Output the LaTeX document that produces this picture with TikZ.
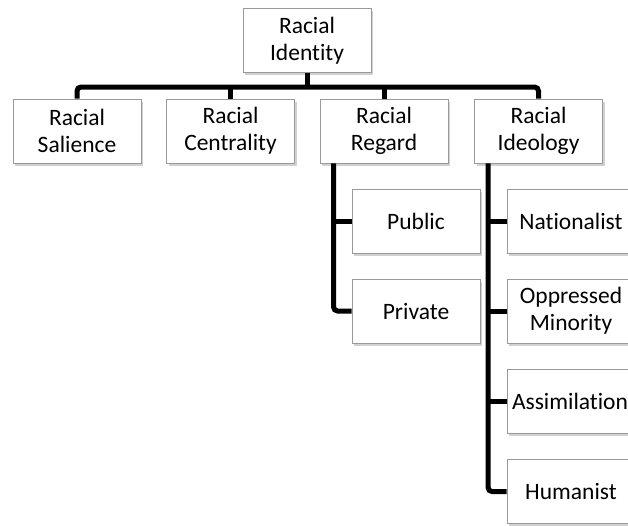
\documentclass[tikz,border=0pt]{standalone}
\usepackage{fontspec}
\setmainfont[Ligatures=NoCommon]{Carlito}
\usetikzlibrary{shadows}
\tikzset{
  box/.style={rectangle, draw=black!40, line width=0.9pt, fill=white,
    minimum width=128pt, minimum height=64pt, inner sep=0pt, align=center,
    font=\fontsize{23.5}{27}\selectfont,
    drop shadow={shadow xshift=2pt, shadow yshift=-2.5pt, opacity=0.3, fill=black!60}},
  conn/.style={line width=5pt, black, rounded corners=4pt}
}
\begin{document}
\begin{tikzpicture}[x=1pt,y=1pt]
\useasboundingbox (0,0) rectangle (628,-525);
\node[box] (id) at (307,-40.5) {Racial\\Identity};
\node[box] (sal) at (77,-131) {Racial\\Salience};
\node[box] (cen) at (230.5,-131) {Racial\\Centrality};
\node[box] (reg) at (384,-131) {Racial\\Regard};
\node[box] (ideo) at (538.5,-131) {Racial\\Ideology};
\node[box] (pub) at (416,-221.5) {Public};
\node[box] (pri) at (416,-311) {Private};
\node[box] (nat) at (571,-221.5) {Nationalist};
\node[box] (opp) at (571,-311) {Oppressed\\Minority};
\node[box, text width=128pt, align=left] (ass) at (571,-401.5) {\hspace*{5pt}Assimilation};
\node[box] (hum) at (571,-491.5) {Humanist};
\coordinate (bar) at (0,-87);
\draw[conn] (sal.north) -- (sal.north |- bar) -- (ideo.north |- bar) -- (ideo.north);
\draw[conn] (id.south) -- (id.south |- bar);
\draw[conn] (cen.north) -- (cen.north |- bar);
\draw[conn] (reg.north) -- (reg.north |- bar);
\coordinate (rs) at ([xshift=14pt]reg.south west);
\coordinate (is) at ([xshift=14pt]ideo.south west);
\draw[conn] (rs) |- (pri.west);
\draw[conn] (pub.west) -- (pub.west -| rs);
\draw[conn] (is) |- (hum.west);
\draw[conn] (nat.west) -- (nat.west -| is);
\draw[conn] (opp.west) -- (opp.west -| is);
\draw[conn] (ass.west) -- (ass.west -| is);
\end{tikzpicture}
\end{document}
